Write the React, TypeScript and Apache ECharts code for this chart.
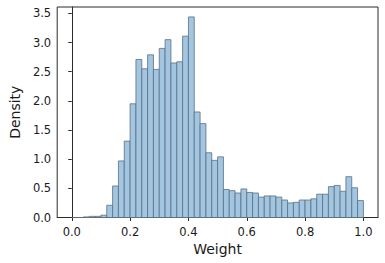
import React, { useEffect, useRef } from "react";
import * as echarts from "echarts";

const binEdges = [
  0.0, 0.02, 0.04, 0.06, 0.08, 0.1, 0.12, 0.14, 0.16, 0.18,
  0.2, 0.22, 0.24, 0.26, 0.28, 0.3, 0.32, 0.34, 0.36, 0.38,
  0.4, 0.42, 0.44, 0.46, 0.48, 0.5, 0.52, 0.54, 0.56, 0.58,
  0.6, 0.62, 0.64, 0.66, 0.68, 0.7, 0.72, 0.74, 0.76, 0.78,
  0.8, 0.82, 0.84, 0.86, 0.88, 0.9, 0.92, 0.94, 0.96, 0.98, 1.0,
];

const density = [
  0, 0, 0.01, 0.02, 0.02, 0.04, 0.21, 0.54, 0.97, 1.31,
  1.95, 2.71, 2.55, 2.79, 2.54, 2.9, 3.05, 2.65, 2.67, 3.11,
  3.44, 1.81, 1.61, 1.11, 0.98, 1.04, 0.48, 0.46, 0.42, 0.49,
  0.43, 0.42, 0.35, 0.37, 0.37, 0.35, 0.3, 0.25, 0.26, 0.3,
  0.3, 0.32, 0.4, 0.4, 0.53, 0.55, 0.45, 0.7, 0.51, 0.29,
];

const xTicks = [0, 0.2, 0.4, 0.6, 0.8, 1.0];
const yTicks = [0, 0.5, 1.0, 1.5, 2.0, 2.5, 3.0, 3.5];

const FONT = "DejaVu Sans";

export default function App() {
  const ref = useRef<HTMLDivElement>(null);
  useEffect(() => {
    if (!ref.current) return;
    const chart = echarts.init(ref.current, undefined, { renderer: "svg" });
    const data = density.map((d, i) => [binEdges[i], binEdges[i + 1], d]);
    chart.setOption({
      animation: false,
      grid: {
        left: 52,
        top: 7,
        right: 7,
        bottom: 45.5,
        show: true,
        borderColor: "#2a2a2a",
        borderWidth: 1,
        backgroundColor: "transparent",
      },
      xAxis: {
        type: "value",
        min: -0.05,
        max: 1.05,
        name: "Weight",
        nameLocation: "middle",
        nameGap: 23,
        nameTextStyle: { fontFamily: FONT, fontSize: 14, color: "#1a1a1a" },
        splitLine: { show: false },
        axisLine: { show: true, lineStyle: { color: "#2a2a2a", width: 1 } },
        axisTick: {
          show: true,
          length: 3.5,
          inside: false,
          customValues: xTicks,
          lineStyle: { color: "#2a2a2a" },
        },
        axisLabel: {
          customValues: xTicks,
          margin: 8,
          fontFamily: FONT,
          fontSize: 11.5,
          color: "#1a1a1a",
          formatter: (v: number) => v.toFixed(1),
        },
      },
      yAxis: {
        type: "value",
        min: 0,
        max: 3.61,
        name: "Density",
        nameLocation: "middle",
        nameGap: 35,
        nameTextStyle: { fontFamily: FONT, fontSize: 14, color: "#1a1a1a" },
        splitLine: { show: false },
        axisLine: { show: true, lineStyle: { color: "#2a2a2a", width: 1 } },
        axisTick: {
          show: true,
          length: 3.5,
          inside: false,
          customValues: yTicks,
          lineStyle: { color: "#2a2a2a" },
        },
        axisLabel: {
          customValues: yTicks,
          margin: 6,
          fontFamily: FONT,
          fontSize: 11.5,
          color: "#1a1a1a",
          formatter: (v: number) => v.toFixed(1),
        },
      },
      series: [
        {
          type: "custom",
          data,
          encode: { x: [0, 1], y: 2 },
          renderItem: (params: any, api: any) => {
            const x0 = api.value(0);
            const x1 = api.value(1);
            const y = api.value(2);
            const p0 = api.coord([x0, y]);
            const p1 = api.coord([x1, 0]);
            return {
              type: "rect",
              shape: {
                x: p0[0],
                y: p0[1],
                width: p1[0] - p0[0],
                height: p1[1] - p0[1],
              },
              style: {
                fill: "#a2c6e1",
                stroke: "#5b6f80",
                lineWidth: 0.8,
              },
            };
          },
        },
      ],
    });
    return () => chart.dispose();
  }, []);
  return (
    <div
      ref={ref}
      style={{ position: "fixed", left: 0, top: 0, width: 385, height: 263, background: "#fff" }}
    />
  );
}
